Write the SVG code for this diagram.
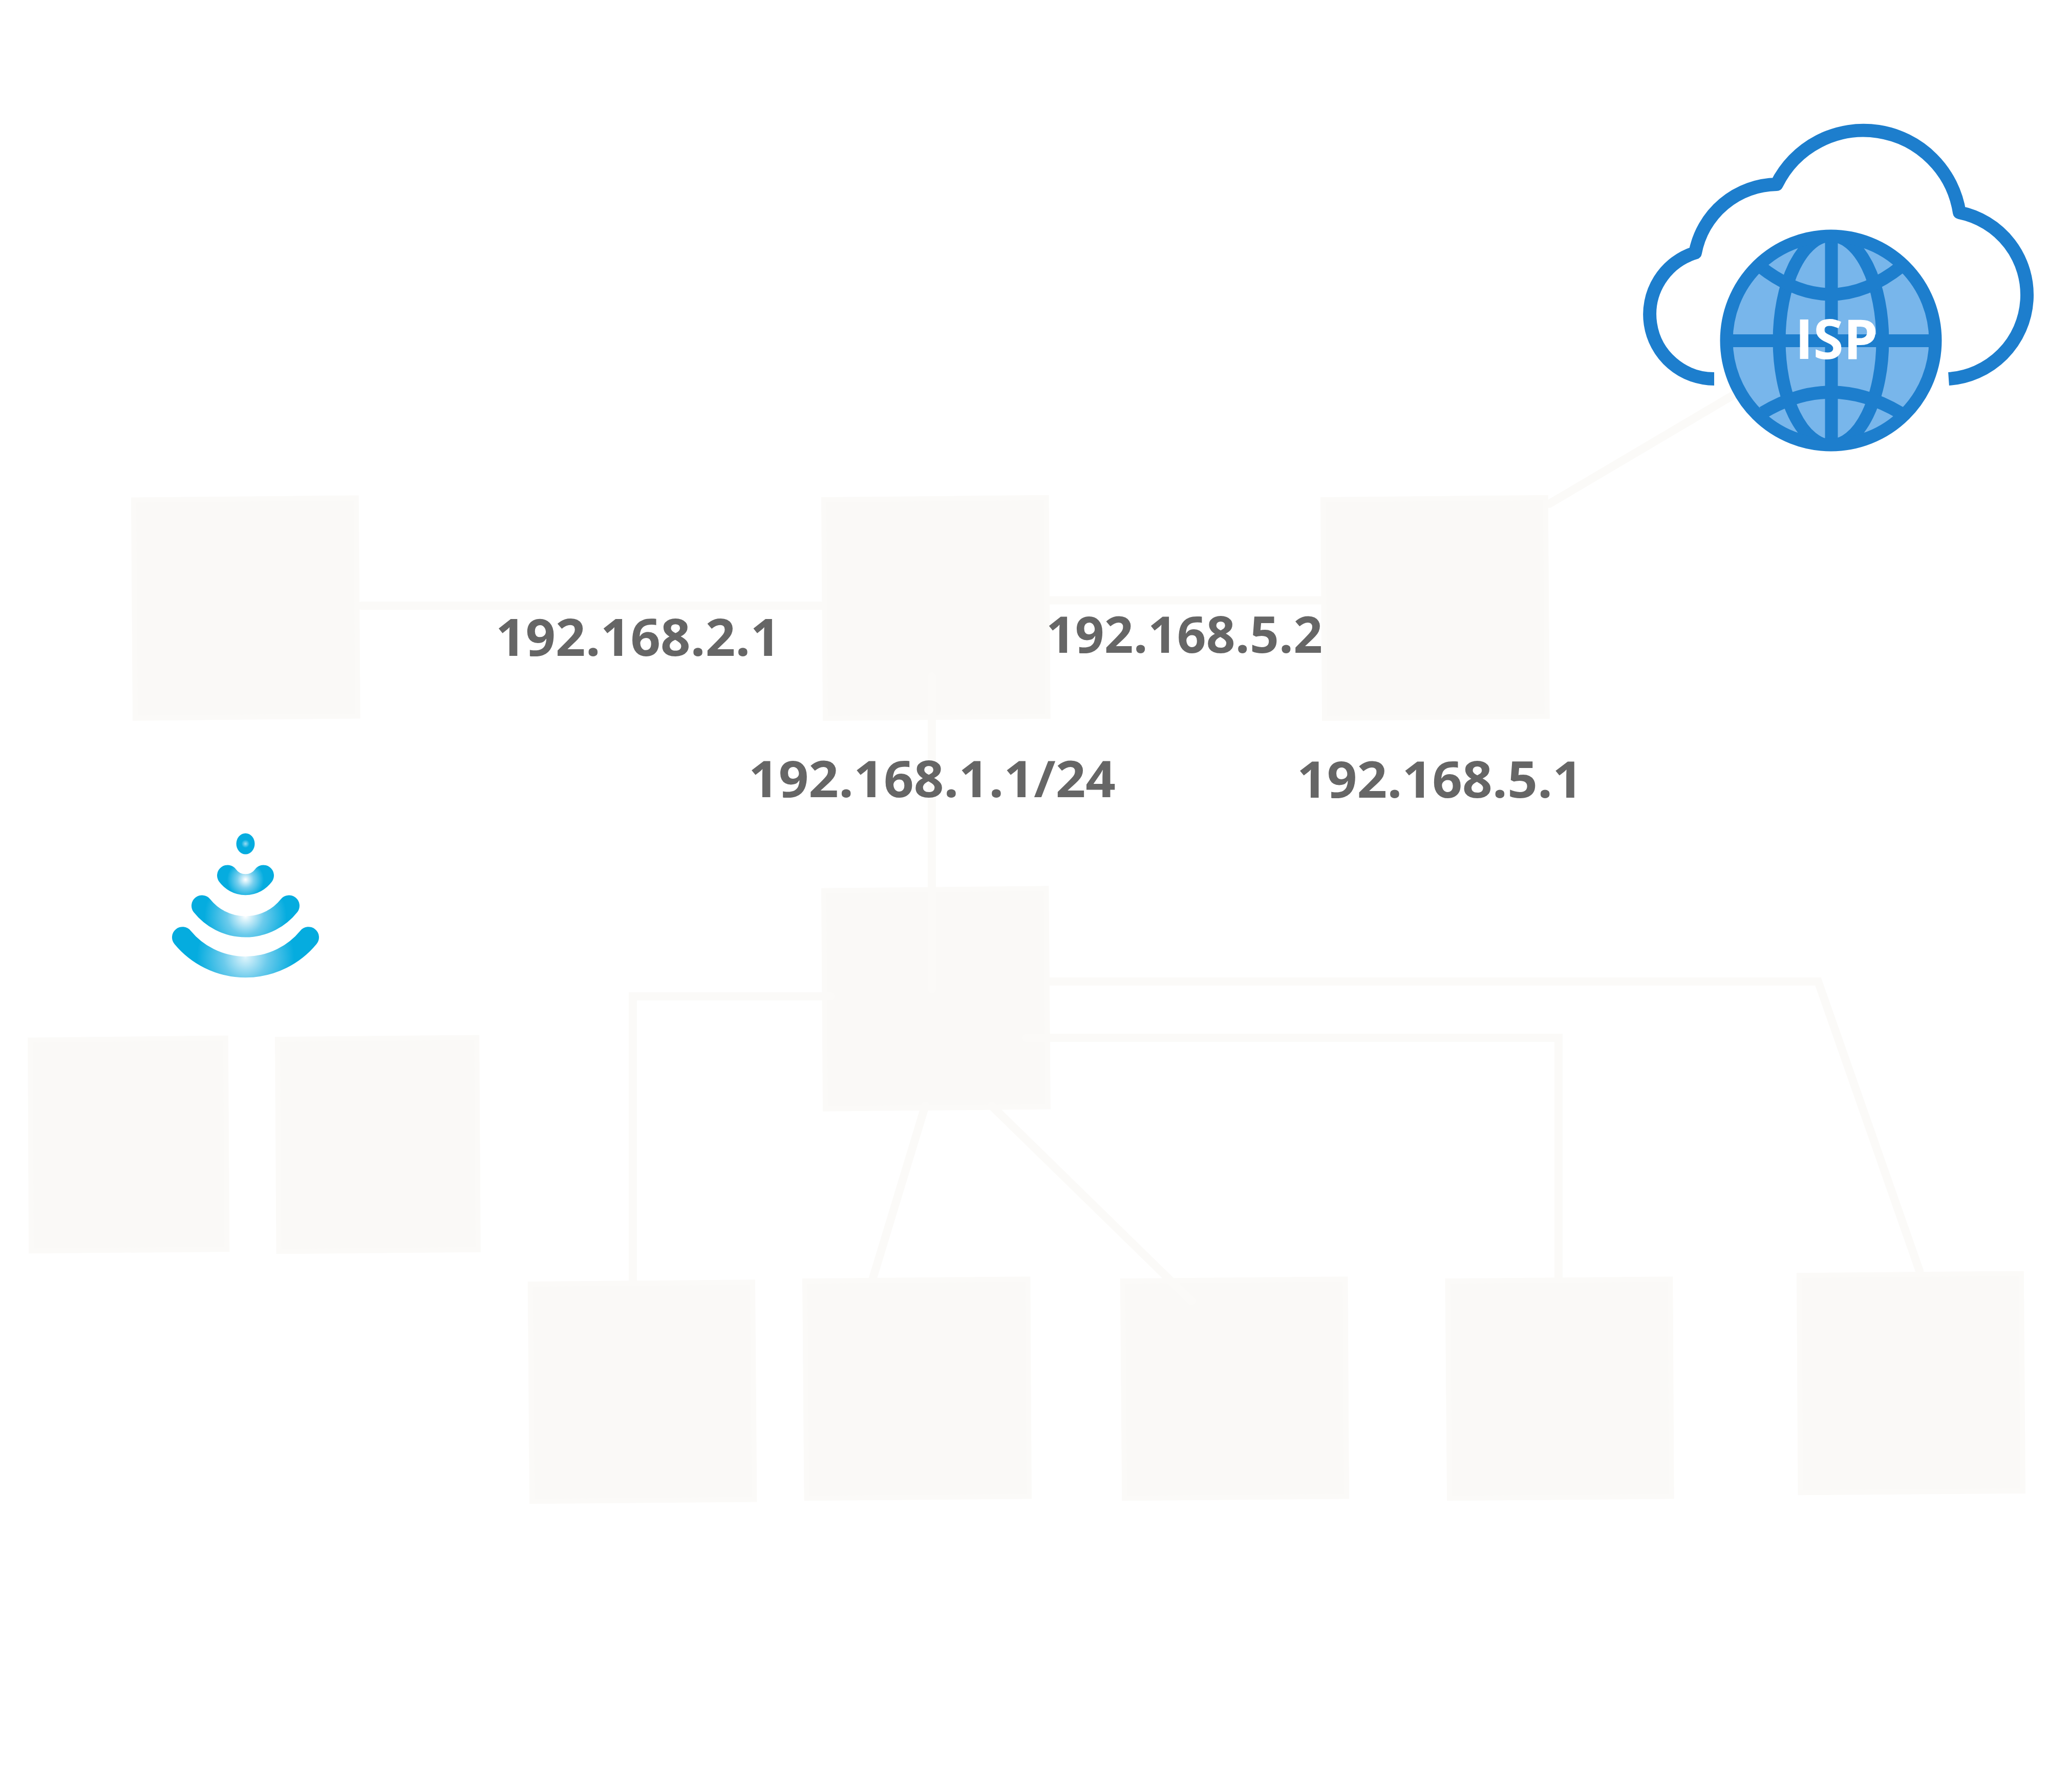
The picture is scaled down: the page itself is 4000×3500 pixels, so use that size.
<svg xmlns="http://www.w3.org/2000/svg" width="4000" height="3500" viewBox="0 0 4000 3500">
<style>
.box{fill:#faf9f7;stroke:#fbfaf8;stroke-width:10}
.wire{fill:none;stroke:#fbfaf8;stroke-width:16;stroke-linecap:round;stroke-linejoin:miter}
.lbl{font-family:"Open Sans","Liberation Sans",sans-serif;font-weight:700;font-size:99px;fill:#666666}
.blue{fill:none;stroke:#1d7ecd;stroke-linejoin:round}
.arc{fill:none;stroke-linecap:round;stroke-width:41}
</style>
<defs>
<radialGradient id="g0" gradientUnits="userSpaceOnUse" cx="479.5" cy="1648" r="16"><stop offset="0" stop-color="#9adcf3"/><stop offset=".5" stop-color="#05acdf"/><stop offset="1" stop-color="#05acdf"/></radialGradient>
<radialGradient id="g1" gradientUnits="userSpaceOnUse" cx="479.5" cy="1718" r="36"><stop offset="0" stop-color="#ffffff"/><stop offset=".45" stop-color="#78cfee"/><stop offset="1" stop-color="#05acdf"/></radialGradient>
<radialGradient id="g2" gradientUnits="userSpaceOnUse" cx="479.5" cy="1789" r="80"><stop offset="0" stop-color="#ffffff"/><stop offset=".45" stop-color="#6ccbec"/><stop offset="1" stop-color="#05acdf"/></radialGradient>
<radialGradient id="g3" gradientUnits="userSpaceOnUse" cx="479.5" cy="1869" r="95"><stop offset="0" stop-color="#e0f5fc"/><stop offset=".45" stop-color="#6ccbec"/><stop offset="1" stop-color="#05acdf"/></radialGradient>
<clipPath id="gl"><circle cx="3576" cy="665" r="205"/></clipPath>
</defs>
<g id="node-a"><polygon class="box" points="261,976.6 695.7,972.6 698.7,1398.6 264,1402.6"/></g>
<g id="node-b"><polygon class="box" points="1609,976 2043.7,972 2046.7,1399 1612,1403"/></g>
<g id="node-c"><polygon class="box" points="2584,976 3018.7,972 3021.7,1399 2587,1403"/></g>
<g id="node-d"><polygon class="box" points="1609,1739.6 2043.5,1735.4 2046.8,2161.6 1612,2165.7"/></g>
<g id="node-e"><polygon class="box" points="59.2,2031.4 440.8,2027.5 443.3,2440 61,2443.3"/></g>
<g id="node-f"><polygon class="box" points="542,2030 931.2,2026.5 933.8,2440.7 544.5,2444.3"/></g>
<g id="node-g"><polygon class="box" points="1035.7,2508 1470,2504.4 1473.4,2928.6 1039,2932.2"/></g>
<g id="node-h"><polygon class="box" points="1572,2502 2007.4,2498.4 2010,2922.6 1575.5,2926.3"/></g>
<g id="node-i"><polygon class="box" points="2192.8,2502 2627.5,2498.4 2630,2922.6 2196.3,2926.3"/></g>
<g id="node-j"><polygon class="box" points="2827.5,2502 3262.3,2498.4 3264.6,2922.6 2831,2926.3"/></g>
<g id="node-k"><polygon class="box" points="3514,2491 3947.8,2487.5 3951,2912 3516.5,2915.3"/></g>
<g id="connectors">
<path class="wire" d="M706 1183H1604"/>
<path class="wire" d="M2051 1172.5H2579"/>
<path class="wire" d="M3026 984L3388 770"/>
<path class="wire" d="M1820 1321V1932"/>
<path class="wire" d="M1622 1946H1236V2503"/>
<path class="wire" d="M1807 2160L1705 2496"/>
<path class="wire" d="M1937 2160L2327 2541"/>
<path class="wire" d="M2005 2027H3044V2495"/>
<path class="wire" d="M2051 1917H3551L3749 2482"/>
</g>
<g id="wifi">
<ellipse cx="479.5" cy="1648" rx="18" ry="20.5" fill="url(#g0)"/>
<path class="arc" stroke="url(#g1)" d="M444.5 1710A43.4 43.4 0 0 0 514.5 1710"/>
<path class="arc" stroke="url(#g2)" d="M394.5 1769A108.6 108.6 0 0 0 564.5 1769"/>
<path class="arc" stroke="url(#g3)" d="M356.5 1830.7A159.4 159.4 0 0 0 602.5 1830.7"/>
</g>
<g id="isp">
<path class="blue" stroke-width="26" d="M3348 740A126 126 0 0 1 3311 493.6A164 164 0 0 1 3470 360A189.5 189.5 0 0 1 3827 415A164.3 164.3 0 0 1 3806 740"/>
<circle cx="3576" cy="665" r="205" fill="#78b6eb"/>
<g class="blue" stroke-width="25" clip-path="url(#gl)">
<ellipse cx="3576" cy="665" rx="101" ry="205"/>
<path d="M3371 665.5H3781M3577 460V870"/>
<path d="M3437 520Q3576 630 3714 520M3443 806Q3576 726 3711 806"/>
</g>
<circle class="blue" stroke-width="25" cx="3576" cy="665" r="204"/>
<text x="3506" y="701" font-family="'Open Sans','Liberation Sans',sans-serif" font-weight="700" font-size="108" fill="#ffffff" textLength="162" lengthAdjust="spacingAndGlyphs">ISP</text>
</g>
<g id="labels">
<text class="lbl" x="968" y="1281" textLength="556" lengthAdjust="spacingAndGlyphs" style="font-size:100px">192.168.2.1</text>
<text class="lbl" x="2043" y="1275" textLength="540" lengthAdjust="spacingAndGlyphs">192.168.5.2</text>
<text class="lbl" x="1462" y="1557" textLength="717" lengthAdjust="spacingAndGlyphs">192.168.1.1/24</text>
<text class="lbl" x="2533" y="1558" textLength="558" lengthAdjust="spacingAndGlyphs">192.168.5.1</text>
</g>
</svg>
